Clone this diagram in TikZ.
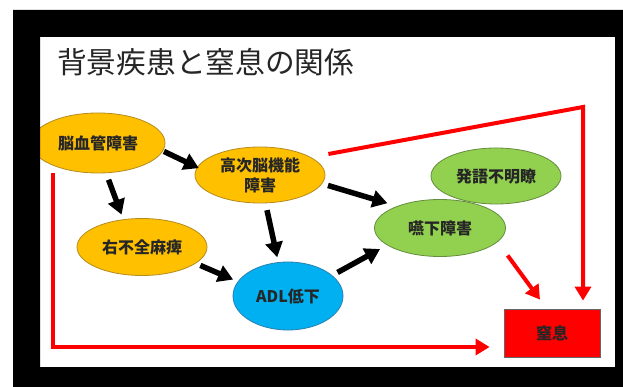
\documentclass[tikz,border=0pt]{standalone}
\usepackage{fontspec}
\newfontfamily\jpfont{Noto Sans CJK JP}
\usetikzlibrary{arrows.meta,shapes.geometric}
\definecolor{kiiro}{RGB}{255,192,0}
\definecolor{kiirosen}{RGB}{180,140,30}
\definecolor{midori}{RGB}{146,208,80}
\definecolor{midorisen}{RGB}{100,140,60}
\definecolor{ao}{RGB}{0,176,240}
\definecolor{aosen}{RGB}{40,130,180}
\definecolor{aka}{RGB}{255,0,0}
\tikzset{
  bubble/.style={ellipse, draw=#1sen, fill=#1, line width=0.8pt, inner sep=0pt,
    align=center, text=black!85, font=\jpfont\bfseries\fontsize{16}{20}\selectfont},
  kuro/.style={line width=5.5pt, -{Triangle[length=15pt,width=17pt]}},
  akasen/.style={aka, line width=4pt, -{Triangle[length=14pt,width=16pt]}}
}

\begin{document}
\begin{tikzpicture}[x=1pt, y=-1pt]
\useasboundingbox (0,0) rectangle (623,387);
\fill[white] (0,0) rectangle (623,387);

\node[anchor=west, inner sep=0pt, text=black!85, font=\jpfont\fontsize{29.7}{32}\selectfont] (title) at (57,62) {背景疾患と窒息の関係};

\node[bubble=kiiro, minimum width=134pt, minimum height=60pt] (nou) at (98,143) {脳血管障害};
\node[bubble=kiiro, minimum width=130pt, minimum height=56pt] (kouji) at (260,175) {高次脳機能\\障害};
\node[bubble=kiiro, minimum width=130pt, minimum height=57pt] (migi) at (142,247) {右不全麻痺};
\node[bubble=ao, minimum width=110pt, minimum height=68pt] (adl) at (288,296) {ADL低下};
\node[bubble=midori, minimum width=130pt, minimum height=56pt] (hatsugo) at (496,176) {発語不明瞭};
\node[bubble=midori, minimum width=131pt, minimum height=57pt] (enge) at (440,228) {嚥下障害};
\node[draw=black!60, fill=aka, line width=0.8pt, minimum width=96pt, minimum height=48pt,
  text=black!85, font=\jpfont\bfseries\fontsize{16}{20}\selectfont] (choke) at (552,333) {窒息};

\draw[kuro, shorten <=1pt, shorten >=-2pt] (nou.-7) -- (kouji.173);
\draw[kuro, shorten <=7pt, shorten >=5pt] (nou.-75) -- (migi.124);
\draw[kuro, shorten <=7pt, shorten >=5pt] (kouji.-79) -- (adl.106);
\draw[kuro, shorten <=5pt, shorten >=5pt] (migi.-17) -- (adl.164);
\draw[kuro, shorten <=6pt, shorten >=10pt] (kouji.-8) -- (enge.153);
\draw[kuro, shorten <=6pt, shorten >=8pt] (adl.25) -- (enge.-162);

\coordinate (kado) at (583,107);
\coordinate (kado2) at (53,347);
\draw[akasen] ([shift={(21,7)}]enge.south east) -- ([shift={(-12,-9)}]choke.north);
\draw[akasen, shorten >=8pt] ([shift={(3,-21)}]kouji.east) -- (kado) -- (kado |- choke.north);
\draw[akasen, shorten >=14pt] (nou.south -| kado2) -- (kado2) -- (kado2 -| choke.west);

\fill[black, even odd rule] (13,10) rectangle (623,387) (40,37) rectangle (615,367);
\end{tikzpicture}
\end{document}
